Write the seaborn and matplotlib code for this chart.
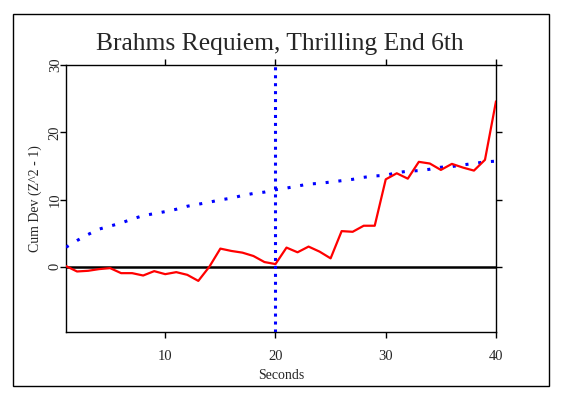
import matplotlib
matplotlib.use("Agg")
import matplotlib.pyplot as plt
import seaborn as sns
import pandas as pd
from matplotlib.patches import Rectangle

seconds = list(range(1, 41))
cum_dev = [0.1, -0.7, -0.6, -0.35, -0.2, -0.95, -0.95, -1.3, -0.65, -1.1,
           -0.8, -1.2, -2.1, 0.0, 2.7, 2.35, 2.1, 1.6, 0.7, 0.4,
           2.85, 2.15, 3.0, 2.25, 1.25, 5.3, 5.2, 6.1, 6.1, 13.0,
           13.9, 13.1, 15.6, 15.35, 14.4, 15.3, 14.75, 14.3, 15.9, 24.6]
envelope = [2.9, 3.9, 4.8, 5.6, 6.05, 6.5, 7.1, 7.6, 7.9, 8.2,
            8.55, 9.0, 9.3, 9.6, 9.95, 10.2, 10.6, 10.9, 11.1, 11.45,
            11.7, 12.0, 12.3, 12.4, 12.6, 12.8, 13.0, 13.3, 13.5, 13.6,
            14.0, 14.2, 14.3, 14.5, 14.8, 14.9, 15.15, 15.35, 15.6, 15.7]
x_ticks = [10, 20, 30, 40]
y_ticks = [0, 10, 20, 30]
event_second = 20
title = "Brahms Requiem, Thrilling End 6th"

df = pd.DataFrame({"Seconds": seconds, "CumDev": cum_dev, "Envelope": envelope})

sns.set_style("white")
plt.rcParams["font.family"] = ["Liberation Serif", "DejaVu Serif"]

fig = plt.figure(figsize=(5.63, 3.97), dpi=100)
ax = fig.add_axes([66 / 563, 1 - 332 / 397, 430 / 563, 267 / 397])

ax.axhline(0, color="black", lw=1.8, zorder=2)
ax.axvline(event_second, color="blue", lw=2.2, linestyle=(0, (1, 1.6)), zorder=3)
sns.lineplot(data=df, x="Seconds", y="Envelope", ax=ax, color="blue", lw=2.2,
             linestyle=(0, (1, 3.2)), zorder=3)
sns.lineplot(data=df, x="Seconds", y="CumDev", ax=ax, color="red", lw=1.6, zorder=4)

ax.set_xlim(1, 40)
ax.set_ylim(-9.7, 30)
ax.set_xticks(x_ticks)
ax.set_xticklabels([str(t) for t in x_ticks], fontsize=10.5)
ax.set_yticks(y_ticks)
ax.set_yticklabels([str(t) for t in y_ticks], fontsize=10.5, rotation=90, va="center")
ax.tick_params(axis="both", which="both", direction="out", length=4, width=1,
               color="black", top=True, right=True, labeltop=False, labelright=False,
               bottom=True, left=True)
ax.tick_params(axis="x", pad=9)
ax.tick_params(axis="y", pad=-1)
for s in ax.spines.values():
    s.set_color("black")
    s.set_linewidth(1.0)
    s.set_visible(True)

ax.set_xlabel("Seconds", fontsize=10, labelpad=4)
ax.set_ylabel("Cum Dev (Z^2 - 1)", fontsize=10, labelpad=5)
fig.text(280 / 563, 1 - 44 / 397, title, ha="center", va="center", fontsize=18.4)

fig.patches.append(Rectangle((13 / 563, 1 - 385.5 / 397), 536 / 563, 371.5 / 397,
                             transform=fig.transFigure, fill=False,
                             edgecolor="black", lw=1.0))

fig.savefig("out.png", dpi=100, facecolor="white")
